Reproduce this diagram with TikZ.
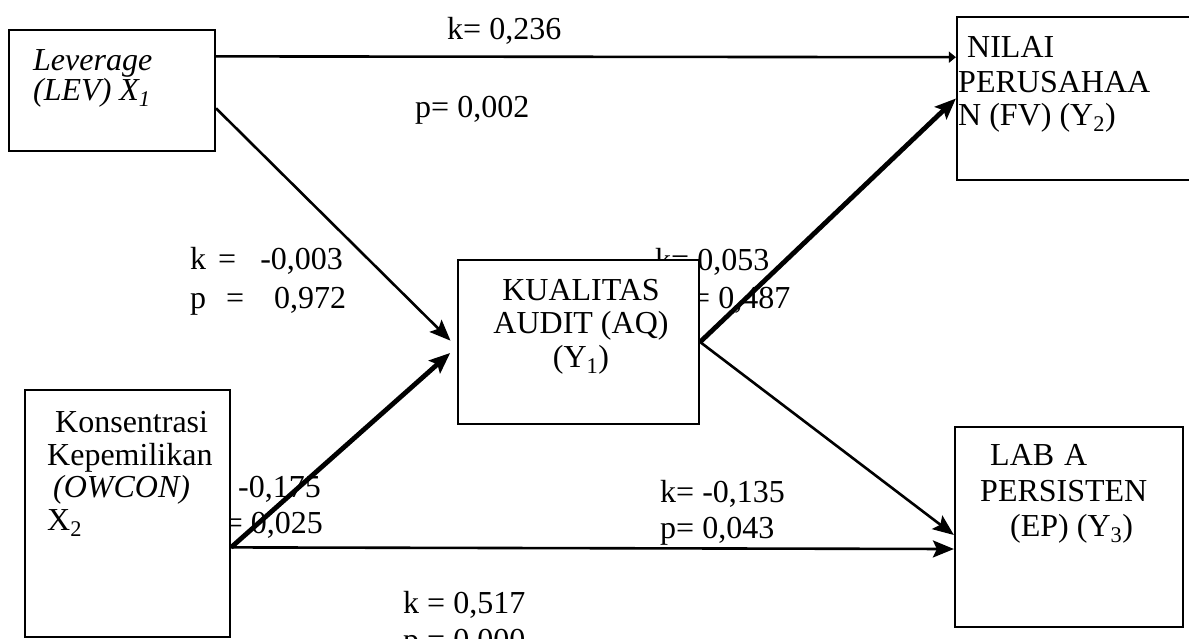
\documentclass[tikz,border=0pt]{standalone}
\usepackage{fontspec}
\setmainfont{Liberation Serif}
\usetikzlibrary{arrows.meta,calc}
\begin{document}
\begin{tikzpicture}[x=1pt,y=-1pt,
  box/.style={draw, line width=2.2pt, fill=white, rectangle, inner sep=0pt},
  txt/.style={inner sep=0pt, font=\fontsize{32}{34}\selectfont},
  edge/.style={line width=2.6pt},
  heavy/.style={line width=4.8pt},
  tip/.style={-{Stealth[length=21pt,width=17pt,inset=4pt]}},
  smalltip/.style={-{Triangle[length=7pt,width=11pt]}}
]
\clip (0,0) rectangle (1189,638);
\fill[white] (0,0) rectangle (1189,638);

% path labels (drawn first: boxes hide parts of them)
\node[txt, anchor=base west] (k1) at (447,39) {k= 0,236};
\node[txt, anchor=base west] (p1) at (415,117) {p= 0,002};
\node[txt, anchor=base west] (k2) at (190,269) {k\hspace{12pt}=\hspace{24pt}-0,003};
\node[txt, anchor=base west] (p2) at (190,308) {p\hspace{20pt}=\hspace{30pt}0,972};
\node[txt, anchor=base west] (k3) at (655,270) {k= 0,053};
\node[txt, anchor=base west] (p3) at (676,308) {p= 0,487};
\node[txt, anchor=base east] (k4) at (321,497) {k= -0,175};
\node[txt, anchor=base east] (p4) at (323,533) {p= 0,025};
\node[txt, anchor=base west] (k5) at (660,502) {k= -0,135};
\node[txt, anchor=base west] (p5) at (660,538) {p= 0,043};
\node[txt, anchor=base west] (k6) at (403,613) {k = 0,517};
\node[txt, anchor=base west] (p6) at (403,650) {p = 0,000};

% boxes
\node[box, minimum width=206pt, minimum height=121pt] (lev) at (112,90.5) {};
\node[box, minimum width=243pt, minimum height=163pt] (nilai) at (1078.5,98.5) {};
\node[box, minimum width=241pt, minimum height=164pt] (kual) at (578.5,342) {};
\node[box, minimum width=205pt, minimum height=247pt] (owcon) at (127.5,513.5) {};
\node[box, minimum width=228pt, minimum height=200pt] (laba) at (1069,527) {};

% box texts
\node[txt, anchor=base west] (lev1) at (33,70) {\itshape Leverage};
\node[txt, anchor=base west] (lev2) at (33,100) {\itshape (LEV) X\textsubscript{1}};

\node[txt, anchor=base west] (nil1) at (967,57) {NILAI};
\node[txt, anchor=base west] (nil2) at (958,92) {PERUSAHAA};
\node[txt, anchor=base west] (nil3) at (958,125) {N (FV) (Y\textsubscript{2})};

\node[txt, anchor=base] (kua1) at (581,300) {KUALITAS};
\node[txt, anchor=base] (kua2) at (581,333) {AUDIT (AQ)};
\node[txt, anchor=base] (kua3) at (581,367) {(Y\textsubscript{1})};

\node[txt, anchor=base west] (own1) at (55,432) {Konsentrasi};
\node[txt, anchor=base west] (own2) at (47,465) {Kepemilikan};
\node[txt, anchor=base west] (own3) at (53,497) {\itshape (OWCON)};
\node[txt, anchor=base west] (own4) at (47,530) {X\textsubscript{2}};

\node[txt, anchor=base west] (lab1) at (990,465) {LAB\hspace{10pt}A};
\node[txt, anchor=base west] (lab2) at (980,501) {PERSISTEN};
\node[txt, anchor=base west] (lab3) at (1010,536) {(EP) (Y\textsubscript{3})};

% connectors
\draw[edge, smalltip] ($(lev.north east)!0.223!(lev.south east)$) -- ($(nilai.north west)!0.25!(nilai.south west)$);
\draw[edge, tip, shorten >=9pt] ($(lev.north east)!0.645!(lev.south east)$) -- ($(kual.west)+(0,5)$);
\draw[heavy, tip, shorten >=9pt] ($(owcon.north east)!0.636!(owcon.south east)$) -- ($(kual.west)+(0,5)$);
\draw[heavy, tip] (kual.east) -- (nilai.west);
\draw[edge, tip] (kual.east) -- ($(laba.west)+(0,8)$);
\draw[edge, tip] ($(owcon.north east)!0.636!(owcon.south east)$) -- ($(laba.west)+(0,22)$);
\end{tikzpicture}
\end{document}
